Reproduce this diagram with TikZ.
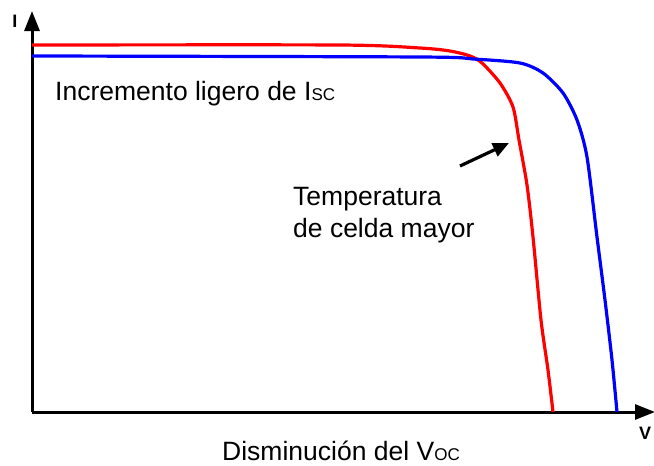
\documentclass[tikz,border=0pt]{standalone}
\usepackage{fontspec}
\setmainfont{Liberation Sans}
\usetikzlibrary{arrows.meta}
\begin{document}
\begin{tikzpicture}[x=1pt,y=-1pt,
  axis/.style={line width=3pt,-{Triangle[length=20pt,width=15pt]}},
  curve/.style={line width=3.2pt,line join=round},
  lbl/.style={inner sep=0pt,font=\fontsize{26.5}{32}\selectfont},
  sub/.style={},
  axlbl/.style={inner sep=0pt,font=\fontsize{18}{18}\selectfont\bfseries}]
\useasboundingbox (0,0) rectangle (654,466);
\fill[white] (0,0) rectangle (654,466);
\coordinate (O) at (32,412);
\coordinate (ytop) at (32,11);
\coordinate (xend) at (655,412);
\draw[axis] (O) -- (ytop);
\draw[axis] (O) -- (xend);
\draw[curve,red] plot[smooth,tension=0.45] coordinates {(32,45) (340,45) (420,48) (450,51) (470,56) (482,63) (500,83) (513,107) (519,140) (527,185) (533,237) (541,320) (548,370) (553,412)};
\draw[curve,blue] plot[smooth,tension=0.45] coordinates {(32,56) (420,57) (473,59) (520,63) (543,73) (563,93) (577,120) (587,157) (597,237) (605,300) (612,360) (617,412)};
\node[axlbl,anchor=base] (ilbl) at (15,27) {I};
\node[axlbl,anchor=base] (vlbl) at (645,439) {V};
\node[lbl,anchor=base west] (isc) at (55,100) {Incremento ligero de I{\fontsize{17}{17}\selectfont SC}};
\node[lbl,anchor=base west] (temp1) at (293,205) {Temperatura};
\node[lbl,anchor=base west] (temp2) at (293,237) {de celda mayor};
\node[lbl,anchor=base west] (voc) at (222,460) {Disminución del V{\fontsize{17}{17}\selectfont OC}};
\coordinate (atail) at (460,166);
\coordinate (ahead) at (509,143);
\draw[line width=3.2pt,-{Triangle[length=16pt,width=14pt]}] (atail) -- (ahead);
\end{tikzpicture}
\end{document}
